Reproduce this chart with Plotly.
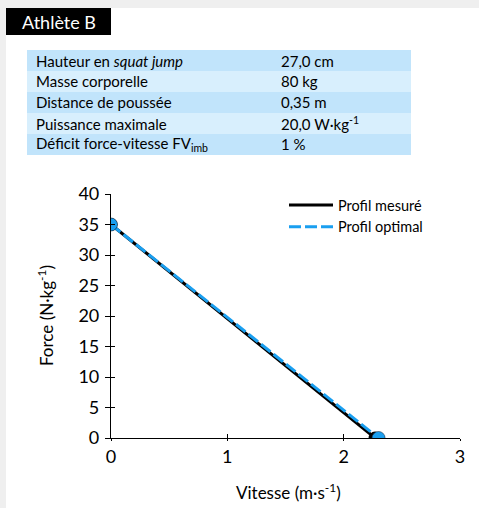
import plotly.graph_objects as go

W, H = 479, 508
FONT = "Lato"

# Force-velocity profiles (velocity m/s, force N/kg)
measured_v = [0.0, 2.27]
measured_f = [35.0, 0.0]
optimal_v = [0.0, 2.30]
optimal_f = [35.0, 0.0]

# Summary table
table_labels = [
    "Hauteur en <i>squat jump</i>",
    "Masse corporelle",
    "Distance de poussée",
    "Puissance maximale",
    "Déficit force-vitesse FV<sub>imb</sub>",
]
table_values = ["27,0 cm", "80 kg", "0,35 m", "20,0 W·kg<sup>-1</sup>", "1 %"]

x_ticks = [0, 1, 2, 3]
y_ticks = [0, 5, 10, 15, 20, 25, 30, 35, 40]


def px(x):
    return x / W


def py(y):
    return 1 - y / H


PLOT_L, PLOT_R, PLOT_T, PLOT_B = 111, 460, 194, 438

fig = go.Figure()

fig.add_trace(go.Scatter(x=measured_v, y=measured_f, mode="lines", name="Profil mesuré",
                         line=dict(color="black", width=3)))
fig.add_trace(go.Scatter(x=optimal_v, y=optimal_f, mode="lines", name="Profil optimal",
                         line=dict(color="#1a9ff0", width=3, dash="12px,4px")))
fig.add_trace(go.Scatter(x=measured_v, y=measured_f, mode="markers", showlegend=False,
                         marker=dict(color="black", size=13)))
fig.add_trace(go.Scatter(x=optimal_v, y=optimal_f, mode="markers", showlegend=False,
                         marker=dict(color="#1a9ff0", size=13,
                                     line=dict(color="#1c3550", width=0.6))))

# invisible overlay trace to carry the inner half of the crossing ticks
fig.add_trace(go.Scatter(x=[0, 3], y=[0, 40], xaxis="x2", yaxis="y2", mode="none",
                         showlegend=False, hoverinfo="skip"))

xdom = [px(PLOT_L), px(PLOT_R)]
ydom = [py(PLOT_B), py(PLOT_T)]

axis_common = dict(showgrid=False, zeroline=False, showline=True, linecolor="black",
                   linewidth=1.2, tickcolor="black", tickwidth=1.2, automargin=False)

fig.update_layout(
    template="none",
    width=W, height=H,
    margin=dict(l=0, r=0, t=0, b=0, pad=0, autoexpand=False),
    paper_bgcolor="#efefef",
    plot_bgcolor="rgba(0,0,0,0)",
    font=dict(family=FONT, color="black"),
    xaxis=dict(domain=xdom, range=[0, 3], tickvals=x_ticks, ticks="outside", ticklen=2,
               tickfont=dict(size=18), anchor="y", **axis_common),
    yaxis=dict(domain=ydom, range=[0, 40], tickvals=y_ticks, ticks="outside", ticklen=5,
               tickfont=dict(size=18), anchor="x", ticklabelstandoff=2, **axis_common),
    xaxis2=dict(domain=xdom, range=[0, 3], tickvals=x_ticks, ticks="inside", ticklen=4,
                showticklabels=False, overlaying="x", anchor="y2", **axis_common),
    yaxis2=dict(domain=ydom, range=[0, 40], tickvals=y_ticks, ticks="inside", ticklen=4,
                showticklabels=False, overlaying="y", anchor="x2", **axis_common),
    legend=dict(x=px(284), y=py(189), xanchor="left", yanchor="top",
                bgcolor="rgba(0,0,0,0)", font=dict(size=14.5), tracegroupgap=2,
                itemwidth=44),
    showlegend=True,
)

shapes = []
annotations = []

# white panel and title box
shapes.append(dict(type="rect", xref="paper", yref="paper", x0=px(6), x1=px(W + 2),
                   y0=py(H + 2), y1=py(8), fillcolor="white", line=dict(width=0), layer="below"))
shapes.append(dict(type="rect", xref="paper", yref="paper", x0=px(6), x1=px(111),
                   y0=py(35), y1=py(8), fillcolor="black", line=dict(width=0), layer="below"))
annotations.append(dict(text="Athlète B", xref="paper", yref="paper", x=px(20), y=py(22),
                        xanchor="left", yanchor="middle", showarrow=False,
                        font=dict(size=18, color="white", family=FONT)))

# table rows
row_edges = [50, 71, 92, 113, 134, 155]
row_colors = ["#c1e4fb", "#d8effd"]
for i, (lab, val) in enumerate(zip(table_labels, table_values)):
    top, bot = row_edges[i], row_edges[i + 1]
    shapes.append(dict(type="rect", xref="paper", yref="paper", x0=px(27), x1=px(411),
                       y0=py(bot), y1=py(top), fillcolor=row_colors[i % 2],
                       line=dict(width=0), layer="below"))
    mid = (top + bot) / 2
    annotations.append(dict(text=lab, xref="paper", yref="paper", x=px(34), y=py(mid),
                            xanchor="left", yanchor="middle", showarrow=False,
                            font=dict(size=15, family=FONT)))
    annotations.append(dict(text=val, xref="paper", yref="paper", x=px(279), y=py(mid),
                            xanchor="left", yanchor="middle", showarrow=False,
                            font=dict(size=15, family=FONT)))

# axis titles
annotations.append(dict(text="Vitesse (m·s<sup>-1</sup>)", xref="paper", yref="paper",
                        x=px(288), y=py(491), xanchor="center", yanchor="middle",
                        showarrow=False, font=dict(size=17, family=FONT)))
annotations.append(dict(text="Force (N·kg<sup>-1</sup>)", xref="paper", yref="paper",
                        x=px(45), y=py(316), xanchor="center", yanchor="middle",
                        textangle=-90, showarrow=False, font=dict(size=17, family=FONT)))

fig.update_layout(shapes=shapes, annotations=annotations)

fig.write_html("out.html")
